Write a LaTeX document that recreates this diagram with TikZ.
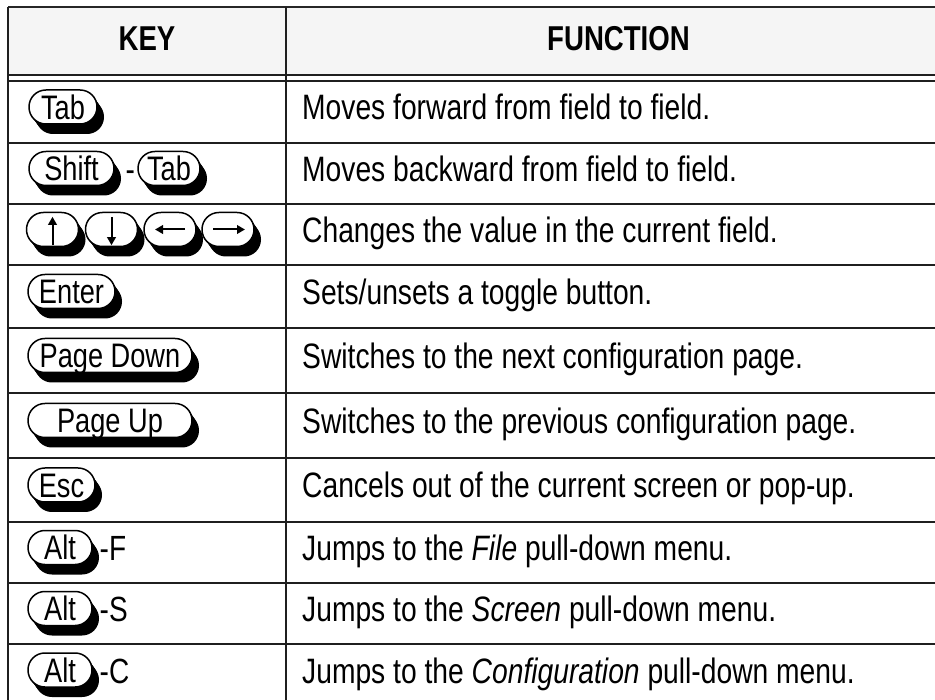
\documentclass[tikz,border=0pt]{standalone}
\usepackage{fontspec}
\setmainfont{Liberation Sans}[FakeStretch=0.8]
\usetikzlibrary{arrows.meta}

% A keyboard key: name, centre x, centre y, face width, label.
% The black shadow is swept down-right under a white rounded face.
\newcommand\kcap[5]{%
  \foreach \s in {0.2,0.4,0.6,0.8,1}{%
    \fill[keyshadow] ({#2-#4/2+7*\s},{#3-17+10*\s}) rectangle ++(#4,34);
  }%
  \draw[keyface] ({#2-#4/2},{#3-17}) rectangle ++(#4,34);
  \node[keylabel, minimum width=#4] (#1) at (#2,#3) {#5};
}

\begin{document}
\begin{tikzpicture}[x=1pt,y=-1pt,
  rule/.style={line width=1.8pt, draw=black!88},
  toprule/.style={line width=2.3pt, draw=black!85},
  keyshadow/.style={fill=black, rounded corners=16.9pt},
  keyface/.style={fill=white, draw=black, line width=1.5pt, rounded corners=16.9pt},
  keylabel/.style={inner sep=0pt, minimum height=34pt, text height=24.3pt, text depth=0pt,
    font=\fontsize{34}{40}\selectfont},
  keyarrow/.style={line width=2pt, -{Triangle[length=8pt,width=8.5pt]}},
  head/.style={anchor=base, inner sep=0pt, font=\fontsize{34.5}{40}\selectfont\bfseries},
  cell/.style={anchor=base west, inner sep=0pt, font=\fontsize{35.3}{40}\selectfont},
  joiner/.style={anchor=base west, inner sep=0pt, font=\fontsize{35}{40}\selectfont}]
\useasboundingbox (0,0) rectangle (935,700);

% header band and table rules
\fill[black!4] (8,7) rectangle (951,74);
\draw[toprule] (8,7) -- (951,7);
\draw[rule] (8,75) -- (951,75);
\draw[rule] (8,81) -- (951,81);
\foreach \y in {143,204,265,328,393,458,522,583,644,706}
  \draw[rule] (8,\y) -- (951,\y);
\draw[rule] (8,7) -- (8,706);
\draw[rule] (286,7) -- (286,706);
\draw[rule] (951,7) -- (951,706);

% column headings
\node[head] (hKey) at (147,51) {KEY};
\node[head] (hFun) at (618.5,51) {FUNCTION};

% row 1
\kcap{kTab}{63}{107}{68}{Tab}
\node[cell] (f1) at (302,120) {Moves forward from field to field.};

% row 2
\kcap{kShift}{71.5}{168.5}{85}{Shift}
\node[joiner] (dash2) at (125.5,181.5) {-};
\kcap{kTabB}{169}{168.5}{62}{Tab}
\node[cell] (f2) at (302,181.5) {Moves backward from field to field.};

% row 3: cursor keys
\kcap{kUp}{52.5}{229.5}{52}{}
\kcap{kDown}{111.5}{229.5}{52}{}
\kcap{kLeft}{170}{229.5}{52}{}
\kcap{kRight}{228}{229.5}{52}{}
\draw[keyarrow] ([yshift=1.5pt]kUp.south) -- ([yshift=-4.5pt]kUp.north);
\draw[keyarrow] ([yshift=-4.5pt]kDown.north) -- ([yshift=1.5pt]kDown.south);
\draw[keyarrow] ([xshift=15pt]kLeft.center) -- ([xshift=-15pt]kLeft.center);
\draw[keyarrow] ([xshift=-15pt]kRight.center) -- ([xshift=17pt]kRight.center);
\node[cell] (f3) at (302,242.5) {Changes the value in the current field.};

% row 4
\kcap{kEnter}{71.5}{291.5}{87}{Enter}
\node[cell] (f4) at (302,304.5) {Sets/unsets a toggle button.};

% row 5
\kcap{kPgDn}{110}{355.5}{164}{Page Down}
\node[cell] (f5) at (302,368.5) {Switches to the next configuration page.};

% row 6
\kcap{kPgUp}{110}{420.5}{164}{Page Up}
\node[cell] (f6) at (302,433.5) {Switches to the previous configuration page.};

% row 7
\kcap{kEsc}{61.5}{485}{67}{Esc}
\node[cell] (f7) at (302,498) {Cancels out of the current screen or pop-up.};

% rows 8-10: Alt combinations
\kcap{kAltF}{60}{547.5}{64}{Alt}
\node[joiner] (sF) at (99.5,560.5) {-F};
\node[cell] (f8) at (302,560.5) {Jumps to the \textit{File} pull-down menu.};

\kcap{kAltS}{60}{608.5}{64}{Alt}
\node[joiner] (sS) at (99.5,621.5) {-S};
\node[cell] (f9) at (302,621.5) {Jumps to the \textit{Screen} pull-down menu.};

\kcap{kAltC}{60}{670}{64}{Alt}
\node[joiner] (sC) at (99.5,683) {-C};
\node[cell] (f10) at (302,683) {Jumps to the \textit{Configuration} pull-down menu.};
\end{tikzpicture}
\end{document}
